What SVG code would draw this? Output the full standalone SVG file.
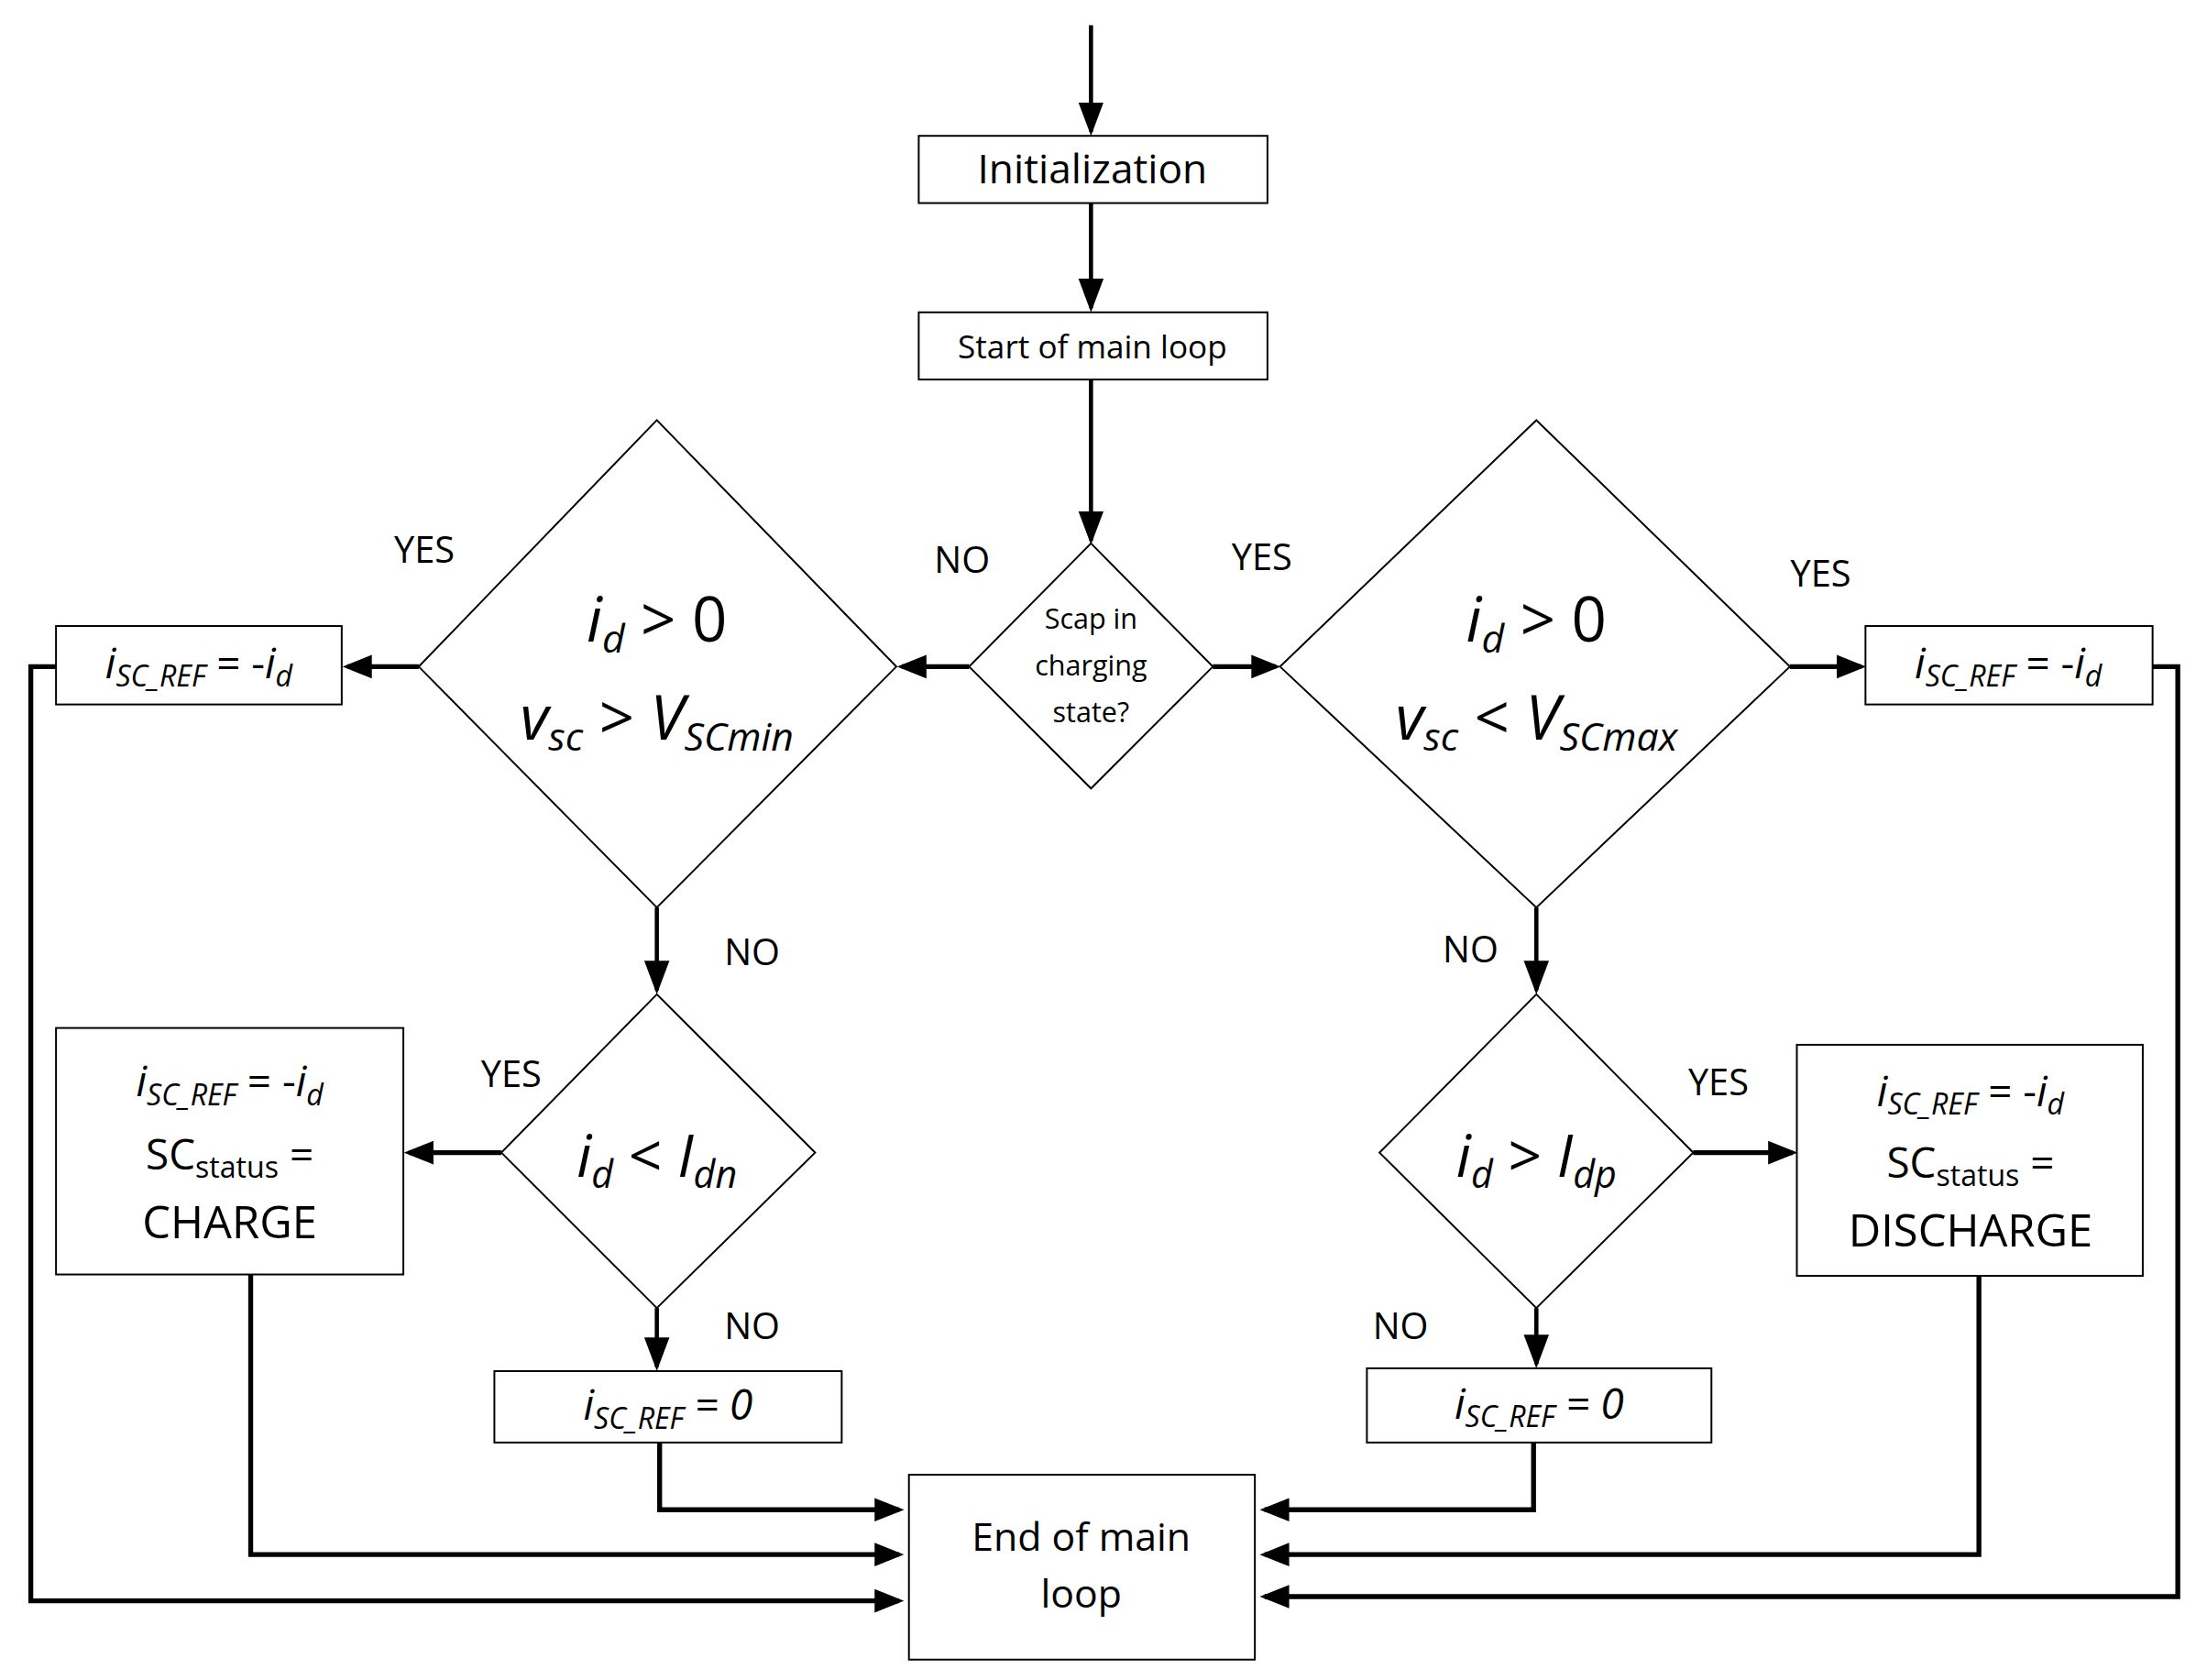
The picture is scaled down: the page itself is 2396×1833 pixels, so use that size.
<svg xmlns="http://www.w3.org/2000/svg" width="2396" height="1833" viewBox="0 0 2396 1833">
<style>
.b{fill:#fff;stroke:#000;stroke-width:1.3}
.c{fill:none;stroke:#000;stroke-width:3.5}
.t{fill:none;stroke:#000;stroke-width:3}
text{font-family:"Open Sans","Liberation Sans",sans-serif;fill:#000;text-anchor:middle}
.l{font-size:26px}
.m{font-style:italic}
</style>
<defs>
<marker id="a" markerWidth="6" markerHeight="6" refX="5" refY="3" orient="auto" markerUnits="strokeWidth"><path d="M0,0.6 L6,3 L0,5.4Z" fill="#000"/></marker>
<marker id="n" markerWidth="8" markerHeight="8" refX="7" refY="4" orient="auto" markerUnits="strokeWidth"><path d="M0,1 L8,4 L0,7Z" fill="#000"/></marker>
</defs>
<rect width="2396" height="1833" fill="#fff"/>
<g transform="scale(1.52806)">
<g id="connectors">
<path class="t" d="M779,18V94" marker-end="url(#n)"/>
<path class="t" d="M779,145V220" marker-end="url(#n)"/>
<path class="t" d="M779,271V386" marker-end="url(#n)"/>
<path class="c" d="M692,476H644" marker-end="url(#a)"/>
<path class="c" d="M866,476H911" marker-end="url(#a)"/>
<path class="c" d="M299,476H248" marker-end="url(#a)"/>
<path class="c" d="M1278,476H1329" marker-end="url(#a)"/>
<path class="t" d="M469,648V707" marker-end="url(#n)"/>
<path class="t" d="M1097,648V707" marker-end="url(#n)"/>
<path class="c" d="M358,823H292" marker-end="url(#a)"/>
<path class="c" d="M1209,823H1280" marker-end="url(#a)"/>
<path class="t" d="M469,934V976" marker-end="url(#n)"/>
<path class="t" d="M1097,934V974" marker-end="url(#n)"/>
<path class="c" d="M471,1030V1078H642" marker-end="url(#a)"/>
<path class="c" d="M179,910V1110H642" marker-end="url(#a)"/>
<path class="c" d="M40,476H22V1143H642" marker-end="url(#a)"/>
<path class="c" d="M1095,1030V1078H903" marker-end="url(#a)"/>
<path class="c" d="M1413,911V1110H903" marker-end="url(#a)"/>
<path class="c" d="M1537,476H1555V1140H903" marker-end="url(#a)"/>
</g>
<g id="init"><rect class="b" x="656" y="97" width="249" height="48"/><text x="780" y="131" font-size="29">Initialization</text></g>
<g id="start"><rect class="b" x="656" y="223" width="249" height="48"/><text x="780" y="256" font-size="23">Start of main loop</text></g>
<g id="scap"><path class="b" d="M779,388L866,476L779,563L692,476Z"/>
<text x="779" y="449" font-size="20">Scap in</text><text x="779" y="482" font-size="20">charging</text><text x="779" y="516" font-size="20">state?</text></g>
<g id="dleft"><path class="b" d="M469,300L640,476L469,648L299,476Z"/>
<text x="469" y="458" font-size="44" class="m">i<tspan font-size="28" dy="8">d</tspan><tspan dy="-8" font-style="normal"> &gt; 0</tspan></text>
<text x="469" y="528" font-size="44" class="m">v<tspan font-size="28" dy="8">sc</tspan><tspan dy="-8" font-style="normal"> &gt; </tspan>V<tspan font-size="28" dy="8">SCmin</tspan></text></g>
<g id="dright"><path class="b" d="M1097,300L1278,476L1097,648L914,476Z"/>
<text x="1097" y="458" font-size="44" class="m">i<tspan font-size="28" dy="8">d</tspan><tspan dy="-8" font-style="normal"> &gt; 0</tspan></text>
<text x="1097" y="528" font-size="44" class="m">v<tspan font-size="28" dy="8">sc</tspan><tspan dy="-8" font-style="normal"> &lt; </tspan>V<tspan font-size="28" dy="8">SCmax</tspan></text></g>
<g id="bleft"><rect class="b" x="40" y="447" width="204" height="56"/>
<text x="142" y="484" font-size="30" class="m">i<tspan font-size="21" dy="6">SC_REF</tspan><tspan dy="-6" font-style="normal"> = -</tspan>i<tspan font-size="21" dy="6">d</tspan></text></g>
<g id="bright"><rect class="b" x="1332" y="447" width="205" height="56"/>
<text x="1434" y="484" font-size="30" class="m">i<tspan font-size="21" dy="6">SC_REF</tspan><tspan dy="-6" font-style="normal"> = -</tspan>i<tspan font-size="21" dy="6">d</tspan></text></g>
<g id="sleft"><path class="b" d="M469,710L582,823L469,934L358,823Z"/>
<text x="469" y="840" font-size="42" class="m">i<tspan font-size="27" dy="8">d</tspan><tspan dy="-8" font-style="normal"> &lt; </tspan>I<tspan font-size="27" dy="8">dn</tspan></text></g>
<g id="sright"><path class="b" d="M1097,710L1209,823L1097,934L985,823Z"/>
<text x="1097" y="840" font-size="42" class="m">i<tspan font-size="27" dy="8">d</tspan><tspan dy="-8" font-style="normal"> &gt; </tspan>I<tspan font-size="27" dy="8">dp</tspan></text></g>
<g id="charge"><rect class="b" x="40" y="734" width="248" height="176"/>
<text x="164" y="783" font-size="30" class="m">i<tspan font-size="21" dy="6">SC_REF</tspan><tspan dy="-6" font-style="normal"> = -</tspan>i<tspan font-size="21" dy="6">d</tspan></text>
<text x="164" y="835" font-size="30">SC<tspan font-size="21" dy="6">status</tspan><tspan dy="-6"> =</tspan></text>
<text x="164" y="884" font-size="32">CHARGE</text></g>
<g id="discharge"><rect class="b" x="1283" y="746" width="247" height="165"/>
<text x="1407" y="790" font-size="30" class="m">i<tspan font-size="21" dy="6">SC_REF</tspan><tspan dy="-6" font-style="normal"> = -</tspan>i<tspan font-size="21" dy="6">d</tspan></text>
<text x="1407" y="841" font-size="30">SC<tspan font-size="21" dy="6">status</tspan><tspan dy="-6"> =</tspan></text>
<text x="1407" y="890" font-size="32">DISCHARGE</text></g>
<g id="zleft"><rect class="b" x="353" y="979" width="248" height="51"/>
<text x="477" y="1014" font-size="30" class="m">i<tspan font-size="21" dy="6">SC_REF</tspan><tspan dy="-6"> = 0</tspan></text></g>
<g id="zright"><rect class="b" x="976" y="977" width="246" height="53"/>
<text x="1099" y="1013" font-size="30" class="m">i<tspan font-size="21" dy="6">SC_REF</tspan><tspan dy="-6"> = 0</tspan></text></g>
<g id="end"><rect class="b" x="649" y="1053" width="247" height="132"/>
<text x="772" y="1107" font-size="28">End of main</text><text x="772" y="1148" font-size="28">loop</text></g>
<g id="labels">
<text class="l" x="303" y="402">YES</text><text class="l" x="687" y="409">NO</text>
<text class="l" x="901" y="407">YES</text><text class="l" x="1300" y="419">YES</text>
<text class="l" x="537" y="689">NO</text><text class="l" x="1050" y="687">NO</text>
<text class="l" x="365" y="776">YES</text><text class="l" x="1227" y="782">YES</text>
<text class="l" x="537" y="956">NO</text><text class="l" x="1000" y="956">NO</text>
</g>
</g>
</svg>
